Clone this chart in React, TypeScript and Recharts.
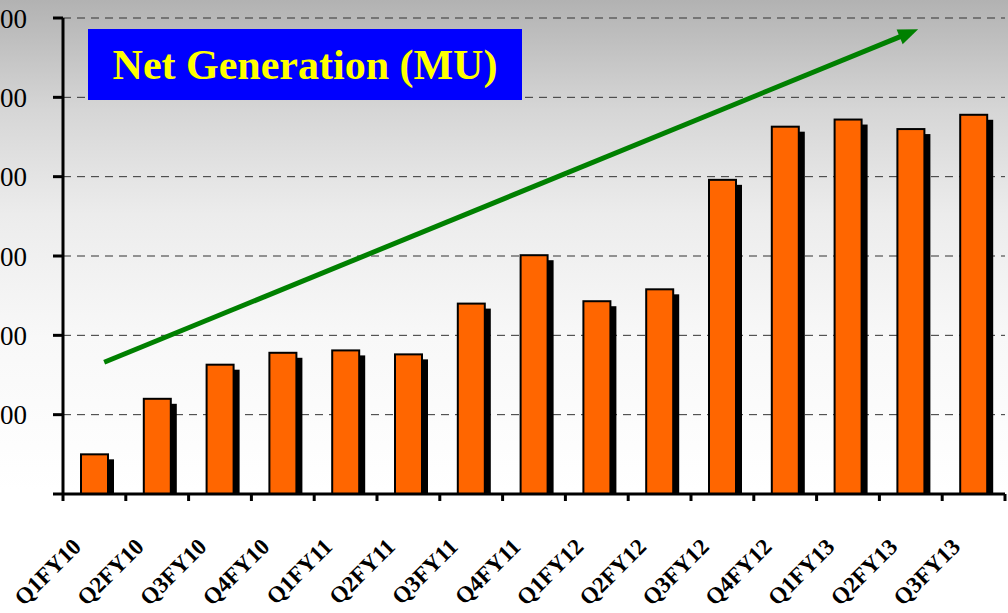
import { BarChart, Bar, XAxis, YAxis, CartesianGrid, ReferenceLine } from 'recharts';

const quarters = ['Q1FY10', 'Q2FY10', 'Q3FY10', 'Q4FY10', 'Q1FY11', 'Q2FY11', 'Q3FY11', 'Q4FY11', 'Q1FY12', 'Q2FY12', 'Q3FY12', 'Q4FY12', 'Q1FY13', 'Q2FY13', 'Q3FY13'];
const netGeneration = [50, 120, 163, 178, 181, 176, 240, 301, 243, 258, 396, 463, 472, 460, 478];
const yTicks = [0, 100, 200, 300, 400, 500, 600];
const trendStart = { x: 'Q1FY10', y: 161 };
const trendEnd = { x: 'Q2FY13', y: 582 };

const data = quarters.map((q, i) => ({ name: q, value: netGeneration[i] }));

const W = 1008;
const H = 613;
const Y_AXIS_W = 63;
const RIGHT = 3;
const STEP = (W - Y_AXIS_W - RIGHT) / quarters.length;

// orange bar with black drop shadow
const ShadowBar = (props: any) => {
  const { x, y, width, height } = props;
  return (
    <g>
      <rect x={x + 6} y={y + 5} width={width} height={Math.max(height - 5, 0)} fill="#000" />
      <rect x={x} y={y} width={width} height={height} fill="#FF6600" stroke="#000" strokeWidth={2} />
    </g>
  );
};

const QuarterTick = (props: any) => {
  const { x, y, payload, index } = props;
  const tx = x - 12;
  const ty = y + 54;
  return (
    <g>
      <line x1={x - STEP / 2} y1={y} x2={x - STEP / 2} y2={y + 7} stroke="#000" strokeWidth={3} />
      {index === quarters.length - 1 && (
        <line x1={x + STEP / 2} y1={y} x2={x + STEP / 2} y2={y + 7} stroke="#000" strokeWidth={3} />
      )}
      <text
        x={tx}
        y={ty}
        textAnchor="end"
        transform={`rotate(-45, ${tx}, ${ty})`}
        fontFamily="'Liberation Serif', serif"
        fontWeight="bold"
        fontSize={23}
        fill="#000"
      >
        {payload.value}
      </text>
    </g>
  );
};

const TrendArrow = (props: any) => {
  const { x1, y1, x2, y2 } = props;
  const dx = x2 - x1;
  const dy = y2 - y1;
  const sx = x1 + dx * 0.012;
  const sy = y1 + dy * 0.012;
  const ex = x2 + dx * 0.009;
  const ey = y2 + dy * 0.009;
  const len = Math.sqrt(dx * dx + dy * dy);
  const ux = dx / len;
  const uy = dy / len;
  const head = 20;
  const half = 8;
  const bx = ex - ux * head;
  const by = ey - uy * head;
  return (
    <g>
      <line x1={sx} y1={sy} x2={bx + ux * 2} y2={by + uy * 2} stroke="#008000" strokeWidth={5} />
      <polygon
        points={`${ex},${ey} ${bx - uy * half},${by + ux * half} ${bx + uy * half},${by - ux * half}`}
        fill="#008000"
      />
    </g>
  );
};

export default function App() {
  return (
    <div
      style={{
        position: 'absolute',
        top: 0,
        left: 0,
        width: W,
        height: H,
        overflow: 'hidden',
        background: 'linear-gradient(to bottom, #b2b2b2 0%, #d6d6d6 18%, #ececec 35%, #f8f8f8 55%, #ffffff 80%)',
      }}
    >
      <BarChart width={W} height={H} data={data} margin={{ top: 18, right: RIGHT, left: 0, bottom: 0 }} barSize={27}>
        <CartesianGrid vertical={false} stroke="#333" strokeDasharray="8 6" />
        <XAxis
          dataKey="name"
          interval={0}
          height={119}
          tickSize={0}
          tickMargin={0}
          tickLine={false}
          axisLine={{ stroke: '#000', strokeWidth: 3 }}
          tick={<QuarterTick />}
        />
        <YAxis
          width={Y_AXIS_W}
          domain={[0, 600]}
          ticks={yTicks}
          tickFormatter={(v: number) => (v === 0 ? '' : String(v))}
          tickSize={10}
          tickMargin={26}
          axisLine={{ stroke: '#000', strokeWidth: 3 }}
          tickLine={{ stroke: '#000', strokeWidth: 3 }}
          tick={{ fill: '#000', fontSize: 27, fontFamily: "'Liberation Serif', serif" }}
        />
        <Bar dataKey="value" shape={<ShadowBar />} isAnimationActive={false} />
        <ReferenceLine segment={[trendStart, trendEnd]} ifOverflow="visible" shape={<TrendArrow />} />
      </BarChart>
      <div
        style={{
          position: 'absolute',
          left: 88,
          top: 29,
          width: 434,
          height: 71,
          background: '#0000FF',
          color: '#FFFF00',
          fontFamily: "'Liberation Serif', serif",
          fontWeight: 'bold',
          fontSize: 42,
          display: 'flex',
          alignItems: 'center',
          justifyContent: 'center',
          lineHeight: 1,
        }}
      >
        Net Generation (MU)
      </div>
    </div>
  );
}
